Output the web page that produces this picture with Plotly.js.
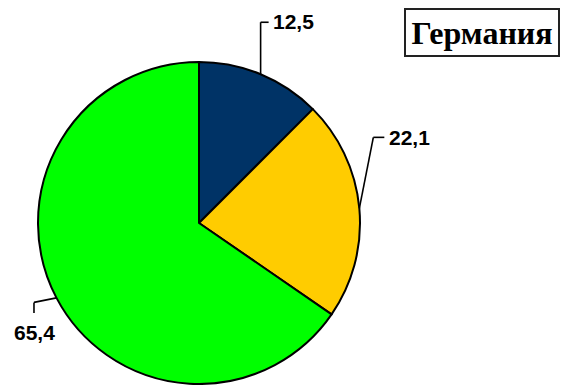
<!DOCTYPE html>
<html>
<head>
<meta charset="utf-8">
<script src="https://cdn.plot.ly/plotly-3.0.1.min.js"></script>
<style>
  html, body { margin: 0; padding: 0; background: #ffffff; }
  #chart { width: 566px; height: 385px; }
</style>
</head>
<body>
<div id="chart"></div>
<script>
// Structure of the economy, Germany (%)
const categories = ['Сельское хозяйство', 'Промышленность', 'Сфера услуг'];
const shares = [12.5, 22.1, 65.4];
const valueLabels = ['12,5', '22,1', '65,4'];
const colors = ['#003366', '#FFCC00', '#00FF00'];
const chartTitle = 'Германия';

const W = 566, H = 385;
// pie geometry in pixels
const cx = 199, cy = 223, R = 161;

// leader routing for each label: elbow offset from the rim point, stub, text side
const leaders = [
  { elbow: [0, -52], stub: [8, 0], anchor: 'left', gap: [2, -1] },
  { elbow: [14, -71], stub: [11, 0], anchor: 'left', gap: [3, 0] },
  { elbow: [-22.5, 4.5], stub: [0, 10.5], anchor: 'center', gap: [1, 19.5] }
];

const px = x => x / W;
const py = y => 1 - y / H;

const total = shares.reduce((a, b) => a + b, 0);
const shapes = [];
const annotations = [];
let acc = 0;
shares.forEach((v, i) => {
  const mid = (acc + v / 2) / total * 2 * Math.PI;
  acc += v;
  const ex = cx + R * Math.sin(mid);
  const ey = cy - R * Math.cos(mid);
  const L = leaders[i];
  const bx = ex + L.elbow[0], by = ey + L.elbow[1];
  const sx = bx + L.stub[0], sy = by + L.stub[1];
  const line = { color: '#000000', width: 1.6 };
  shapes.push({ type: 'line', xref: 'paper', yref: 'paper', x0: px(ex), y0: py(ey), x1: px(bx), y1: py(by), line });
  shapes.push({ type: 'line', xref: 'paper', yref: 'paper', x0: px(bx), y0: py(by), x1: px(sx), y1: py(sy), line });
  annotations.push({
    xref: 'paper', yref: 'paper',
    x: px(sx + L.gap[0]), y: py(sy + L.gap[1]),
    xanchor: L.anchor, yanchor: 'middle',
    text: '<b>' + valueLabels[i] + '</b>',
    showarrow: false,
    font: { family: 'Liberation Sans, Arial, sans-serif', size: 21, color: '#000000' }
  });
});

// framed title
annotations.push({
  xref: 'paper', yref: 'paper',
  x: px(482), y: py(32.5), xanchor: 'center', yanchor: 'middle',
  text: '<b>' + chartTitle + '</b>',
  showarrow: false,
  width: 152, height: 45,
  bordercolor: '#222222', borderwidth: 2, borderpad: 0,
  bgcolor: '#ffffff',
  font: { family: 'Liberation Serif, Times New Roman, serif', size: 32, color: '#000000' }
});

const trace = {
  type: 'pie',
  labels: categories,
  values: shares,
  sort: false,
  direction: 'clockwise',
  rotation: 0,
  textinfo: 'none',
  hoverinfo: 'label+value',
  marker: { colors: colors, line: { color: '#000000', width: 2 } },
  domain: { x: [px(cx - R), px(cx + R)], y: [py(cy + R), py(cy - R)] }
};

const layout = {
  width: W, height: H,
  margin: { l: 0, r: 0, t: 0, b: 0 },
  paper_bgcolor: '#ffffff',
  showlegend: false,
  shapes, annotations
};

Plotly.newPlot('chart', [trace], layout, { displayModeBar: false, staticPlot: true });
</script>
</body>
</html>
